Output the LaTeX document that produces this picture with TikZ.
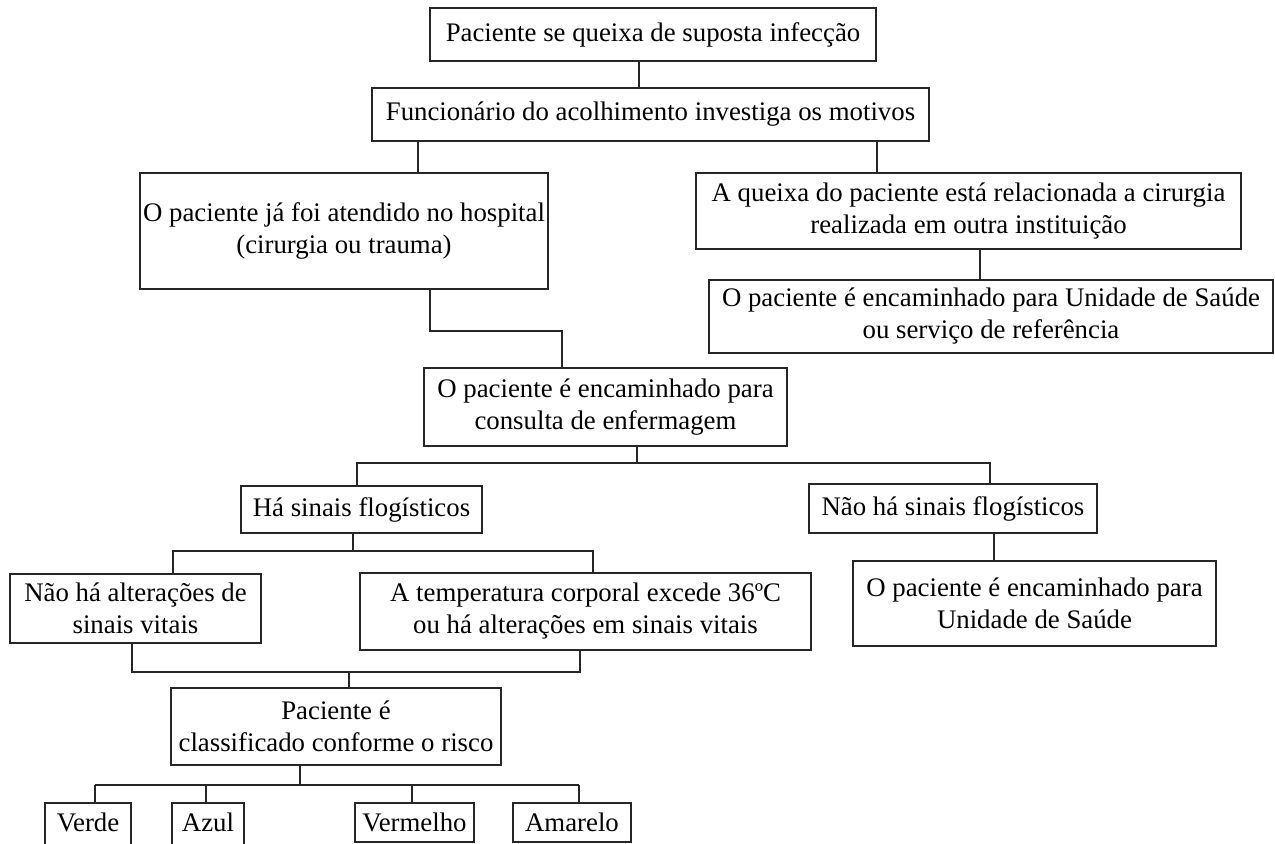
\documentclass[tikz,border=0pt]{standalone}
\usepackage{fontspec}
\setmainfont{Liberation Serif}
\def\px{0.5pt}
\usepackage{tikz}

\begin{document}
\begin{tikzpicture}[x=\px, y=-\px, line width=1.45pt, draw=black!85]
	\tikzstyle{box}=[draw=black!85, rectangle, inner sep=0pt, align=center, font=\fontsize{13.4}{16}\selectfont]
	\tikzstyle{small box}=[box]
	
	\useasboundingbox (0,0) rectangle (1275,844);
	
	% Draw the top boxes
	\node[box, minimum width=446*\px, minimum height=53*\px] (B1) at (653,34.5) {Paciente se queixa de suposta infecção};
	\node[box, minimum width=557*\px, minimum height=53*\px] (B2) at (650.5,114.5) {Funcionário do acolhimento investiga os motivos};
	\node[box, minimum width=408*\px, minimum height=116*\px] (B3) at (344,231) {O paciente já foi atendido no hospital\\(cirurgia ou trauma)};
	\node[box, minimum width=545*\px, minimum height=76*\px] (B4) at (968.5,211) {A queixa do paciente está relacionada a cirurgia\\realizada em outra instituição};
	\node[box, minimum width=564*\px, minimum height=73*\px] (B5) at (991,316.5) {O paciente é encaminhado para Unidade de Saúde\\ou serviço de referência};
	\node[box, minimum width=363*\px, minimum height=78*\px] (B6) at (605.5,407) {O paciente é encaminhado para\\consulta de enfermagem};
	
	% Draw the two branches of the nursing consultation
	\node[box, minimum width=241*\px, minimum height=47*\px] (H1) at (361.5,509.5) {Há sinais flogísticos};
	\node[box, minimum width=288*\px, minimum height=49*\px] (H2) at (953,508.5) {Não há sinais flogísticos};
	\node[box, minimum width=363*\px, minimum height=85*\px] (U1) at (1034.5,603.5) {O paciente é encaminhado para\\Unidade de Saúde};
	
	% Draw the vital signs boxes
	\node[box, minimum width=251*\px, minimum height=69*\px] (S1) at (135.5,608.5) {Não há alterações de\\sinais vitais};
	\node[box, minimum width=451*\px, minimum height=77*\px] (S2) at (585.5,611.5) {A temperatura corporal excede 36ºC\\ou há alterações em sinais vitais};
	\node[box, minimum width=330*\px, minimum height=77*\px] (C1) at (336,726.5) {Paciente é\\classificado conforme o risco};
	
	% Draw the risk colours (the first two run off the page)
	\foreach \name / \lbl / \x / \y / \w / \h / \d / \sx in {1/Verde/88/827/86/48/9/95, 2/Azul/208/827/72/48/9/206, 3/Vermelho/414.5/822.5/119/39/0/412, 4/Amarelo/572/822.5/118/39/0/579}
	{
	\node[small box, minimum width=\w*\px, minimum height=\h*\px, text depth=\d*\px] (R-\name) at (\x,\y) {\lbl};
	\coordinate (t-\name) at (\sx,785);
	}
	
	% Connect the top boxes
	\coordinate (a1) at (639,0);
	\coordinate (a2) at (418,0);
	\coordinate (a3) at (877,0);
	\coordinate (a4) at (980,0);
	\draw (B1.south -| a1) -- (B2.north -| a1);
	\draw (B2.south -| a2) -- (B3.north -| a2);
	\draw (B2.south -| a3) -- (B4.north -| a3);
	\draw (B4.south -| a4) -- (B5.north -| a4);
	
	% Connect hospital with nursing consultation
	\coordinate (k1) at (430,331);
	\coordinate (k2) at (562,331);
	\draw (B3.south -| k1) -- (k1) -- (k2) -- (B6.north -| k2);
	
	% Connect nursing consultation with both branches
	\coordinate (m0) at (637,463);
	\coordinate (m1) at (357,463);
	\coordinate (m2) at (990,463);
	\draw (B6.south -| m0) -- (m0);
	\draw (H1.north -| m1) -- (m1) -- (m2) -- (H2.north -| m2);
	\coordinate (a5) at (994,0);
	\draw (H2.south -| a5) -- (U1.north -| a5);
	
	% Connect signs with vital signs
	\coordinate (n0) at (353,551);
	\coordinate (n1) at (173,551);
	\coordinate (n2) at (593,551);
	\draw (H1.south -| n0) -- (n0);
	\draw (S1.north -| n1) -- (n1) -- (n2) -- (S2.north -| n2);
	
	% Join vital signs into the risk box
	\coordinate (p0) at (349,672);
	\coordinate (p1) at (132,672);
	\coordinate (p2) at (580,672);
	\draw (S1.south -| p1) -- (p1) -- (p2) -- (S2.south -| p2);
	\draw (p0) -- (C1.north -| p0);
	
	% Connect risk box with the colours
	\coordinate (q0) at (300,785);
	\draw (C1.south -| q0) -- (q0);
	\draw (t-1) -- (t-4);
	\foreach \name in {1,...,4}
	\draw (t-\name) -- (R-\name.north -| t-\name);
	
\end{tikzpicture}
\end{document}
